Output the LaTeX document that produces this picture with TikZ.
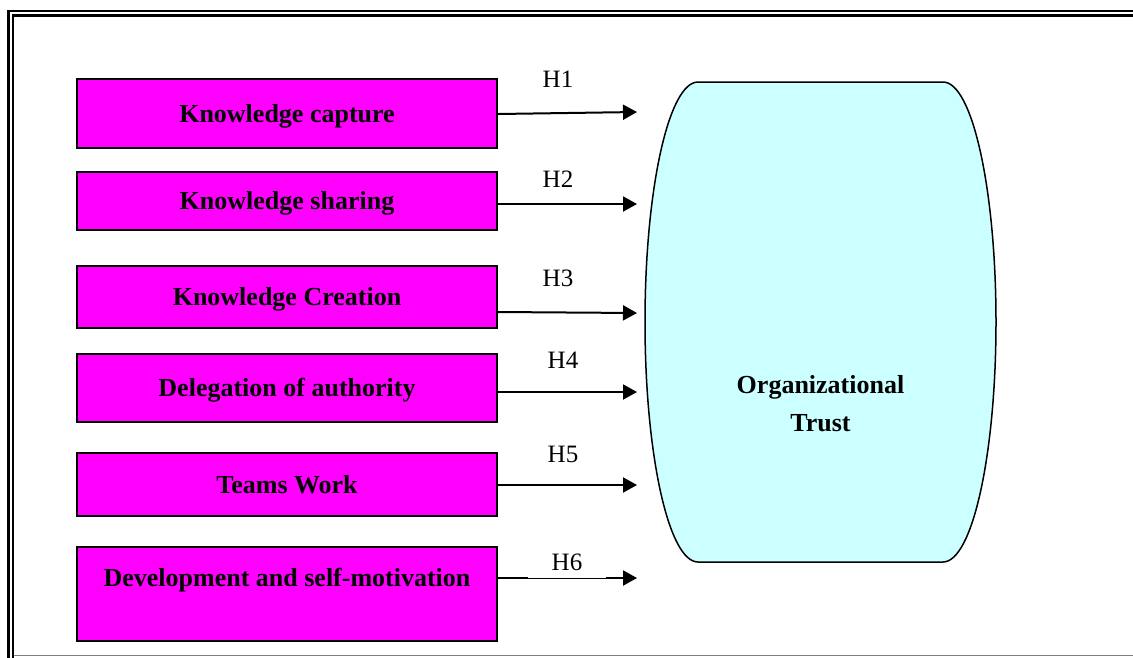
\documentclass[tikz,border=0pt]{standalone}
\usepackage{fontspec}
\setmainfont{Liberation Serif}
\usetikzlibrary{arrows.meta}
\definecolor{boxmag}{HTML}{FF00FF}
\definecolor{trustcyan}{HTML}{CCFFFF}
\tikzset{
  factor/.style={draw=black, line width=2pt, fill=boxmag, minimum width=420pt,
    inner sep=0pt, font=\fontsize{26}{31}\selectfont\bfseries,
    text height=17.6pt, text depth=0pt},
  hyp/.style={draw=black, line width=2pt, -{Triangle[length=14pt,width=15pt]}},
  hlabel/.style={anchor=base, font=\fontsize{25}{30}\selectfont, inner sep=0pt},
  frameline/.style={draw=black, line width=2.5pt},
}
\begin{document}
\begin{tikzpicture}[x=1pt,y=-1pt]
\useasboundingbox (0,0) rectangle (1133,657);
% frame
\draw[frameline] (8.7,660) -- (8.7,11.2) -- (1136,11.2);
\draw[frameline] (13.2,660) -- (13.2,15.7) -- (1136,15.7);
\draw[draw=gray, line width=1.5pt] (14,655.5) -- (1136,655.5);

% factor boxes
\node[factor, minimum height=69pt] (b1) at (287,113.5) {Knowledge capture};
\node[factor, minimum height=58pt] (b2) at (287,201) {Knowledge sharing};
\node[factor, minimum height=62pt] (b3) at (287,297) {Knowledge Creation};
\node[factor, minimum height=68pt] (b4) at (287,388) {Delegation of authority};
\node[factor, minimum height=63pt] (b5) at (287,484.5) {Teams Work};
\node[factor, minimum height=94pt, text depth=32pt] (b6) at (287,594) {Development and self-motivation};

% organizational trust shape
\draw[line width=1.5pt, fill=trustcyan]
  (698,82) -- (943,82)
  .. controls (972.3,82) and (996,189.4) .. (996,322)
  .. controls (996,454.6) and (972.3,562) .. (943,562)
  -- (698,562)
  .. controls (668.7,562) and (645,454.6) .. (645,322)
  .. controls (645,189.4) and (668.7,82) .. (698,82) -- cycle;
\node[align=center, font=\fontsize{26}{38}\selectfont\bfseries, inner sep=0pt] (trust) at (820.5,404) {Organizational\\Trust};

% arrow end points
\coordinate (e1) at (637,112);
\coordinate (e2) at (637,204);
\coordinate (e3) at (637,313);
\coordinate (e4) at (637,392);
\coordinate (e5) at (637,485);
\coordinate (e6) at (637,578);

\draw[hyp] (b1.east |- 0,114) -- (e1);
\draw[hyp] (b2.east |- e2) -- (e2);
\draw[hyp] (b3.east |- 0,312) -- (e3);
\draw[hyp] (b4.east |- e4) -- (e4);
\draw[hyp] (b5.east |- e5) -- (e5);
\draw[hyp] (b6.east |- e6) -- (e6);

% labels
\node[hlabel] (h1) at (558,87) {H1};
\node[hlabel] (h2) at (558,187) {H2};
\node[hlabel] (h3) at (558,286) {H3};
\node[hlabel] (h4) at (563,368) {H4};
\node[hlabel] (h5) at (563,462) {H5};
\node[hlabel, fill=white, minimum width=78pt, inner ysep=8pt, text depth=0pt] (h6) at (567,570) {H6};
\end{tikzpicture}
\end{document}
